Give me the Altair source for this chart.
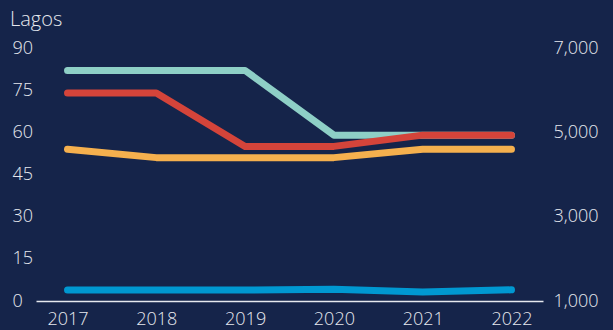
import altair as alt
import pandas as pd

years = ["2017", "2018", "2019", "2020", "2021", "2022"]

# Left-axis series
teal = [82, 82, 82, 59, 59, 59]
red = [74, 74, 55, 55, 59, 59]
yellow = [54, 51, 51, 51, 54, 54]
# Right-axis series
blue = [1260, 1260, 1260, 1280, 1215, 1265]

left_ticks = [0, 15, 30, 45, 60, 75, 90]
right_ticks = [1000, 3000, 5000, 7000]

BG = "#15244a"
TXT = "#e6e8ee"
FONT = "Open Sans"
SIZE = 18

rows = []
for name, vals in [("teal", teal), ("red", red), ("yellow", yellow)]:
    for i, (y, v) in enumerate(zip(years, vals)):
        rows.append({"year": y, "value": v, "series": name, "order": i})
left_df = pd.DataFrame(rows)
right_df = pd.DataFrame({"year": years, "value": blue, "series": "blue"})

x_enc = alt.X(
    "year:O",
    scale=alt.Scale(type="point", padding=0.355),
    axis=alt.Axis(
        title=None, labelAngle=0, ticks=False, domain=True,
        domainColor="#e6e8ee", domainWidth=1.5,
        labelFontSize=SIZE, labelColor=TXT, labelFont=FONT, labelFontWeight=300,
        labelPadding=9, grid=False,
    ),
)

left = alt.Chart(left_df).mark_line(strokeWidth=7, strokeCap="round", strokeJoin="round").encode(
    x=x_enc,
    y=alt.Y(
        "value:Q",
        scale=alt.Scale(domain=[0, 90], nice=False, zero=False),
        axis=alt.Axis(
            title=None, values=left_ticks, ticks=False, domain=False, grid=False,
            labelAlign="left", labelPadding=24, labelFontSize=SIZE,
            labelColor=TXT, labelFont=FONT, labelFontWeight=300,
        ),
    ),
    color=alt.Color(
        "series:N",
        scale=alt.Scale(domain=["teal", "red", "yellow"], range=["#8ecfc6", "#d4443a", "#f5b04e"]),
        legend=None,
    ),
    detail="series:N",
)

right = alt.Chart(right_df).mark_line(
    strokeWidth=7, strokeCap="round", strokeJoin="round", color="#0098d1"
).encode(
    x=x_enc,
    y=alt.Y(
        "value:Q",
        scale=alt.Scale(domain=[1000, 7000], nice=False, zero=False),
        axis=alt.Axis(
            title=None, orient="right", values=right_ticks, format=",.0f", ticks=False,
            domain=False, grid=False, labelAlign="left", labelPadding=10,
            labelFontSize=SIZE, labelColor=TXT, labelFont=FONT, labelFontWeight=300,
        ),
    ),
)

chart = (
    alt.layer(left, right)
    .resolve_scale(y="independent")
    .properties(
        width=507,
        height=253,
        background=BG,
        autosize=alt.AutoSizeParams(type="none"),
        padding={"left": 36, "top": 48, "right": 70, "bottom": 29},
        title=alt.TitleParams(
            "Lagos", anchor="start", frame="group", dx=-26, offset=9,
            fontSize=20, fontWeight=300, font=FONT, color=TXT,
        ),
    )
    .configure_view(stroke=None)
)

chart.save("out.html", embed_options={"renderer": "svg", "actions": False})
